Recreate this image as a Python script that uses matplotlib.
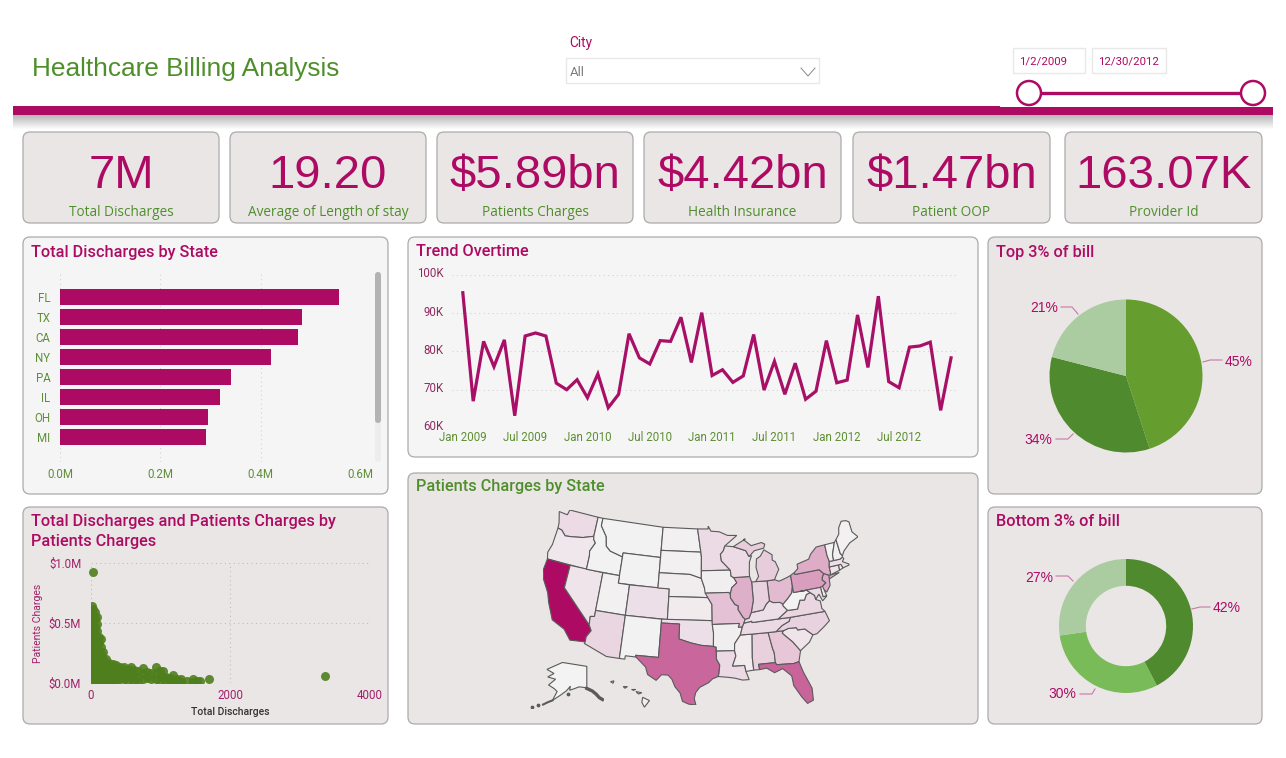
import numpy as np
import matplotlib
matplotlib.use("Agg")
import matplotlib.pyplot as plt
from matplotlib.colors import LinearSegmentedColormap
from matplotlib.patches import FancyBboxPatch, Circle, Polygon, Rectangle
from matplotlib.transforms import ScaledTranslation

W, H = 1286, 758

MAGENTA = "#AD0B63"
GREEN = "#4E8F2B"
TICK_GREEN = "#5F8F35"
TICK_MAGENTA = "#A0206A"
CARD = "#EAE6E6"
LIGHT = "#F5F5F5"
EDGE = "#ABABAB"
BODY = "Roboto"
ARIAL = "Liberation Sans"

# KPI cards
kpi_values = ["7M", "19.20", "$5.89bn", "$4.42bn", "$1.47bn", "163.07K"]
kpi_labels = ["Total Discharges", "Average of Length of stay", "Patients Charges",
              "Health Insurance", "Patient OOP", "Provider Id"]

# Total Discharges by State
bar_states = ["FL", "TX", "CA", "NY", "PA", "IL", "OH", "MI"]
bar_values = [0.556, 0.483, 0.475, 0.421, 0.340, 0.318, 0.295, 0.291]

# Trend Overtime, monthly Jan 2009 - Dec 2012 (thousands)
trend_values = [95.3, 67.0, 82.6, 76.0, 83.0, 63.2, 84.0, 84.8, 84.0, 71.7, 70.0, 72.6,
                67.9, 74.1, 65.3, 68.8, 84.6, 78.3, 76.7, 82.8, 82.6, 88.9, 77.1, 90.1,
                73.7, 75.2, 71.9, 73.6, 84.4, 69.9, 77.4, 68.8, 76.9, 67.5, 69.6, 82.8,
                71.8, 72.5, 89.5, 75.8, 94.4, 72.1, 70.5, 81.1, 81.4, 82.4, 64.6, 78.3]
trend_ticks = ["Jan 2009", "Jul 2009", "Jan 2010", "Jul 2010",
               "Jan 2011", "Jul 2011", "Jan 2012", "Jul 2012"]

# Scatter: discharges -> patients charges ($M)
scatter_cols = {
    10: [.64, .58, .52, .46, .40, .34, .28, .22, .16, .10, .05, .01],
    35: [.62, .56, .50, .44, .38, .32, .26, .20, .14, .08, .03],
    60: [.59, .53, .47, .41, .35, .29, .23, .17, .11, .05],
    85: [.55, .49, .43, .37, .31, .25, .19, .13, .07, .02],
    115: [.38, .33, .27, .21, .15, .09, .04],
    140: [.37, .30, .24, .18, .12, .06, .01],
    175: [.26, .20, .14, .08, .03],
    215: [.20, .15, .10, .05, .01],
    260: [.17, .12, .07, .02],
    310: [.16, .11, .06, .01],
    365: [.15, .10, .05, .01],
    420: [.13, .08, .03],
    475: [.13, .08, .03],
    530: [.12, .07, .02],
    570: [.135, .09, .04],
    625: [.11, .06, .01],
    680: [.10, .05, .01],
    750: [.125, .08, .03],
    805: [.09, .04],
    860: [.08, .03],
    935: [.13, .08, .03],
    990: [.10, .05, .01],
    1035: [.10, .05],
    1085: [.05, .01],
    1130: [.04, .01],
    1182: [.065, .02],
    1240: [.03, .01],
    1300: [.035, .01],
    1380: [.02],
    1460: [.03, .01],
    1530: [.02],
    1570: [.015],
    1695: [.036],
}
outlier_x = [25, 3370]
outlier_y = [0.925, 0.055]

# Pies
top_pcts = [45, 34, 21]
top_colors = ["#659D2F", "#4F8B2E", "#ABCBA1"]
bottom_pcts = [42, 30, 27]
bottom_colors = ["#4F8B2E", "#79BB59", "#ABCBA1"]

# Patients Charges by state ($bn, estimated from the shading)
state_charges = {
    "CA": .78, "TX": .47, "FL": .48, "PA": .29, "IL": .23, "NY": .24, "NJ": .25, "OH": .19,
    "MI": .13, "MO": .17, "GA": .15, "NC": .11, "AL": .12, "TN": .09, "VA": .10, "KY": .07,
    "IN": .11, "WI": .08, "MN": .08, "WA": .08, "OR": .04, "AZ": .10, "NV": .05, "CO": .07,
    "LA": .09, "MS": .03, "AR": .02, "OK": .07, "KS": .03, "NE": .025, "IA": .02, "SC": .05,
    "SD": .01, "ND": .01, "MT": .005, "WY": .005, "ID": .005, "UT": .01, "NM": .005, "ME": .01,
    "VT": .005, "NH": .01, "MA": .07, "CT": .05, "RI": .01, "DE": .02, "MD": .08, "WV": .005,
    "AK": .002, "HI": .01,
}

# Rough state outlines, lon/lat
state_shapes = {
    "WA": [(-124.7, 48.4), (-123.0, 48.3), (-122.8, 49), (-117.03, 49), (-117.04, 46.42), (-119.0, 45.93), (-121.2, 45.65), (-122.3, 45.55), (-123.2, 46.15), (-124.0, 46.27), (-124.1, 47.0)],
    "OR": [(-124.0, 46.27), (-123.2, 46.15), (-122.3, 45.55), (-121.2, 45.65), (-119.0, 45.93), (-117.04, 46.42), (-116.9, 45.99), (-116.47, 45.6), (-117.2, 44.4), (-117.03, 43.8), (-117.03, 42), (-124.2, 42), (-124.5, 42.85), (-124.1, 44.0)],
    "CA": [(-124.2, 42), (-120, 42), (-120, 39), (-114.63, 35.0), (-114.13, 34.3), (-114.72, 33.4), (-114.72, 32.72), (-117.12, 32.53), (-118.4, 33.75), (-120.6, 34.55), (-121.9, 36.6), (-122.5, 37.8), (-123.8, 39.3), (-124.35, 40.4)],
    "NV": [(-120, 42), (-114.04, 42), (-114.04, 36.2), (-114.72, 36.1), (-114.63, 35.0), (-120, 39)],
    "ID": [(-117.03, 49), (-116.05, 49), (-116.05, 48), (-114.7, 46.7), (-114.35, 45.5), (-113.45, 44.95), (-111.05, 44.48), (-111.05, 42), (-117.03, 42), (-117.03, 43.8), (-117.2, 44.4), (-116.47, 45.6), (-116.9, 45.99), (-117.04, 46.42)],
    "MT": [(-116.05, 49), (-104.05, 49), (-104.05, 45), (-111.05, 45), (-111.05, 44.48), (-113.45, 44.95), (-114.35, 45.5), (-114.7, 46.7), (-116.05, 48)],
    "WY": [(-111.05, 45), (-104.05, 45), (-104.05, 41), (-111.05, 41)],
    "UT": [(-114.04, 42), (-111.05, 42), (-111.05, 41), (-109.05, 41), (-109.05, 37), (-114.04, 37)],
    "CO": [(-109.05, 41), (-102.05, 41), (-102.05, 37), (-109.05, 37)],
    "AZ": [(-114.04, 37), (-109.05, 37), (-109.05, 31.33), (-111.07, 31.33), (-114.81, 32.5), (-114.72, 32.72), (-114.72, 33.4), (-114.13, 34.3), (-114.63, 35.0), (-114.72, 36.1), (-114.04, 36.2)],
    "NM": [(-109.05, 37), (-103.0, 37), (-103.05, 32), (-106.62, 32), (-106.53, 31.78), (-108.2, 31.78), (-108.2, 31.33), (-109.05, 31.33)],
    "ND": [(-104.05, 49), (-97.23, 49), (-96.56, 45.94), (-104.05, 45.94)],
    "SD": [(-104.05, 45.94), (-96.56, 45.94), (-96.45, 45.3), (-96.45, 42.49), (-98.5, 43.0), (-104.05, 43)],
    "NE": [(-104.05, 43), (-98.5, 43), (-96.45, 42.49), (-95.9, 41.3), (-95.31, 40.0), (-102.05, 40), (-102.05, 41), (-104.05, 41)],
    "KS": [(-102.05, 40), (-95.31, 40), (-94.62, 39.1), (-94.62, 37), (-102.05, 37)],
    "OK": [(-103, 37), (-94.62, 37), (-94.43, 35.4), (-94.48, 33.64), (-96.5, 33.8), (-98.1, 34.1), (-100, 34.56), (-100, 36.5), (-103, 36.5)],
    "TX": [(-106.62, 32), (-103.05, 32), (-103, 36.5), (-100, 36.5), (-100, 34.56), (-98.1, 34.1), (-96.5, 33.8), (-94.48, 33.64), (-94.04, 33.55), (-94.04, 31.99), (-93.55, 31.2), (-93.7, 30.1), (-93.84, 29.7), (-94.7, 29.4), (-95.3, 28.9), (-96.6, 28.3), (-97.2, 27.6), (-97.4, 26.8), (-97.15, 25.96), (-98.2, 26.06), (-99.1, 26.4), (-99.5, 27.5), (-100.3, 28.3), (-100.8, 29.25), (-101.4, 29.77), (-102.4, 29.77), (-103.15, 28.98), (-104.5, 29.65), (-104.9, 30.6), (-106.53, 31.78)],
    "MN": [(-97.23, 49), (-95.15, 49), (-95.15, 49.38), (-94.6, 48.7), (-93, 48.6), (-91.4, 48.07), (-89.6, 48.0), (-92.0, 46.7), (-92.3, 46.1), (-92.9, 45.6), (-92.75, 44.75), (-91.2, 43.5), (-96.45, 43.5), (-96.45, 45.3), (-96.56, 45.94)],
    "IA": [(-96.45, 43.5), (-91.2, 43.5), (-91.1, 42.7), (-90.65, 42.5), (-90.15, 41.8), (-91.1, 41.2), (-91.4, 40.4), (-91.7, 40.6), (-95.77, 40.58), (-95.9, 41.3), (-96.45, 42.49)],
    "MO": [(-95.77, 40.58), (-91.7, 40.6), (-91.4, 40.4), (-91.4, 39.9), (-90.7, 39.0), (-90.15, 38.8), (-90.2, 38.3), (-89.5, 37.3), (-89.13, 37.0), (-89.4, 36.5), (-89.7, 36.0), (-90.37, 36.0), (-90.15, 36.5), (-94.62, 36.5), (-94.62, 39.1), (-95.31, 40)],
    "AR": [(-94.62, 36.5), (-90.15, 36.5), (-90.37, 36.0), (-89.7, 36.0), (-90.1, 35.0), (-91.1, 33.9), (-91.17, 33.0), (-94.04, 33.02), (-94.04, 33.55), (-94.48, 33.64), (-94.43, 35.4)],
    "LA": [(-94.04, 33.02), (-91.17, 33.0), (-91.0, 32.3), (-91.6, 31.0), (-89.73, 31.0), (-89.6, 30.2), (-89.2, 29.1), (-90.2, 29.1), (-91.3, 29.4), (-92.3, 29.55), (-93.84, 29.7), (-93.7, 30.1), (-93.55, 31.2), (-94.04, 31.99)],
    "MS": [(-91.1, 33.9), (-90.1, 35.0), (-88.2, 35.0), (-88.47, 31.9), (-88.4, 30.3), (-89.6, 30.2), (-89.73, 31.0), (-91.6, 31.0), (-91.0, 32.3), (-91.17, 33.0)],
    "AL": [(-88.2, 35.0), (-85.6, 35.0), (-85.18, 32.87), (-85.0, 32.3), (-85.0, 31.0), (-87.6, 31.0), (-87.5, 30.3), (-88.4, 30.3), (-88.47, 31.9)],
    "GA": [(-85.6, 35.0), (-83.1, 35.0), (-83.35, 34.7), (-81.9, 33.4), (-80.9, 32.1), (-81.4, 30.72), (-82.2, 30.57), (-84.86, 30.71), (-85.0, 31.0), (-85.0, 32.3), (-85.18, 32.87)],
    "FL": [(-87.6, 31.0), (-85.0, 31.0), (-84.86, 30.71), (-82.2, 30.57), (-81.4, 30.72), (-81.0, 29.3), (-80.1, 27.0), (-80.2, 25.4), (-81.1, 25.1), (-81.8, 26.1), (-82.7, 27.7), (-82.8, 29.0), (-84.0, 30.1), (-85.3, 29.7), (-86.4, 30.4), (-87.5, 30.3)],
    "SC": [(-83.1, 35.0), (-82.3, 35.2), (-81.0, 35.15), (-80.8, 34.82), (-79.67, 34.8), (-78.55, 33.86), (-79.3, 33.0), (-80.9, 32.1), (-81.9, 33.4), (-83.35, 34.7)],
    "NC": [(-84.32, 35.0), (-83.1, 35.0), (-82.3, 35.2), (-81.0, 35.15), (-80.8, 34.82), (-79.67, 34.8), (-78.55, 33.86), (-77.9, 33.9), (-76.5, 34.65), (-75.5, 35.25), (-75.9, 36.55), (-81.68, 36.59), (-82.0, 36.1), (-83.2, 35.7)],
    "TN": [(-90.1, 35.0), (-88.2, 35.0), (-85.6, 35.0), (-84.32, 35.0), (-83.2, 35.7), (-82.0, 36.1), (-81.68, 36.59), (-83.68, 36.6), (-88.07, 36.5), (-88.07, 36.68), (-89.4, 36.5), (-89.7, 36.0)],
    "KY": [(-89.4, 36.5), (-88.07, 36.68), (-88.07, 36.5), (-83.68, 36.6), (-81.97, 37.54), (-82.6, 38.2), (-82.6, 38.42), (-83.0, 38.7), (-84.2, 38.8), (-84.8, 39.1), (-85.4, 38.7), (-86.0, 38.0), (-87.0, 37.9), (-88.05, 37.8), (-88.5, 37.1), (-89.13, 37.0)],
    "VA": [(-83.68, 36.6), (-81.68, 36.59), (-75.9, 36.55), (-76.3, 37.0), (-76.3, 38.0), (-77.0, 38.3), (-77.05, 38.85), (-77.7, 39.32), (-78.4, 39.17), (-78.9, 38.5), (-79.65, 38.6), (-80.3, 37.5), (-81.97, 37.54)],
    "WV": [(-81.97, 37.54), (-80.3, 37.5), (-79.65, 38.6), (-78.9, 38.5), (-78.4, 39.17), (-77.7, 39.32), (-78.2, 39.7), (-79.48, 39.72), (-80.52, 39.72), (-80.52, 40.64), (-80.85, 39.7), (-81.75, 39.0), (-82.6, 38.42), (-82.6, 38.2)],
    "OH": [(-84.8, 41.7), (-83.45, 41.73), (-82.7, 41.45), (-81.2, 41.78), (-80.52, 41.98), (-80.52, 40.64), (-80.85, 39.7), (-81.75, 39.0), (-82.6, 38.42), (-83.0, 38.7), (-84.2, 38.8), (-84.8, 39.1)],
    "IN": [(-87.53, 41.75), (-86.8, 41.76), (-84.8, 41.7), (-84.8, 39.1), (-85.4, 38.7), (-86.0, 38.0), (-87.0, 37.9), (-88.05, 37.8), (-87.53, 39.35)],
    "IL": [(-90.65, 42.5), (-87.8, 42.5), (-87.53, 41.75), (-87.53, 39.35), (-88.05, 37.8), (-88.5, 37.1), (-89.13, 37.0), (-89.5, 37.3), (-90.2, 38.3), (-90.15, 38.8), (-90.7, 39.0), (-91.4, 39.9), (-91.4, 40.4), (-91.1, 41.2), (-90.15, 41.8)],
    "WI": [(-92.0, 46.7), (-90.4, 46.55), (-88.1, 45.9), (-87.6, 45.1), (-87.1, 45.2), (-87.6, 44.4), (-87.8, 43.0), (-87.8, 42.5), (-90.65, 42.5), (-91.1, 42.7), (-91.2, 43.5), (-92.75, 44.75), (-92.9, 45.6), (-92.3, 46.1)],
    "MI": [(-86.8, 41.76), (-84.8, 41.7), (-83.45, 41.73), (-83.1, 42.2), (-82.45, 43.0), (-82.9, 44.05), (-83.4, 44.3), (-83.3, 45.0), (-84.7, 45.78), (-85.5, 45.0), (-86.25, 44.7), (-86.5, 43.6), (-86.2, 42.4)],
    "MI2": [(-90.4, 46.55), (-88.1, 45.9), (-87.6, 45.1), (-86.5, 45.8), (-84.7, 46.0), (-84.4, 46.5), (-85.0, 46.77), (-87.0, 46.5), (-88.4, 47.4), (-88.0, 47.45)],
    "PA": [(-80.52, 41.98), (-79.76, 42.27), (-79.76, 42.0), (-75.35, 42.0), (-74.7, 41.36), (-75.1, 40.95), (-75.2, 40.6), (-74.7, 40.15), (-75.4, 39.8), (-75.79, 39.72), (-79.48, 39.72), (-80.52, 39.72), (-80.52, 40.64)],
    "NY": [(-79.76, 42.27), (-79.05, 42.7), (-79.05, 43.27), (-76.8, 43.63), (-76.3, 44.2), (-75.0, 44.98), (-73.35, 45.01), (-73.4, 43.6), (-73.25, 42.75), (-73.5, 42.05), (-73.5, 41.3), (-73.7, 41.0), (-72.0, 41.05), (-73.9, 40.55), (-74.0, 40.75), (-73.9, 41.0), (-74.7, 41.36), (-75.35, 42.0), (-79.76, 42.0)],
    "NJ": [(-74.7, 41.36), (-73.9, 41.0), (-74.0, 40.4), (-74.1, 39.7), (-74.9, 38.95), (-75.5, 39.5), (-75.4, 39.8), (-74.7, 40.15), (-75.2, 40.6), (-75.1, 40.95)],
    "DE": [(-75.79, 39.72), (-75.4, 39.8), (-75.05, 38.45), (-75.7, 38.46)],
    "MD": [(-79.48, 39.72), (-75.79, 39.72), (-75.7, 38.46), (-75.05, 38.45), (-75.9, 37.95), (-76.3, 38.9), (-77.0, 38.3), (-77.05, 38.85), (-77.7, 39.32), (-78.2, 39.7)],
    "CT": [(-73.5, 42.05), (-71.8, 42.02), (-71.85, 41.32), (-73.7, 41.0), (-73.5, 41.3)],
    "RI": [(-71.8, 42.02), (-71.38, 42.02), (-71.15, 41.5), (-71.85, 41.32)],
    "MA": [(-73.25, 42.75), (-71.3, 42.7), (-70.8, 42.87), (-70.6, 42.65), (-71.0, 42.3), (-70.0, 41.8), (-70.0, 41.65), (-71.15, 41.5), (-71.38, 42.02), (-71.8, 42.02), (-73.5, 42.05)],
    "VT": [(-73.35, 45.01), (-71.5, 45.01), (-72.4, 43.5), (-72.46, 42.73), (-73.25, 42.75), (-73.4, 43.6)],
    "NH": [(-71.5, 45.01), (-71.08, 45.3), (-70.98, 43.4), (-70.7, 43.07), (-70.8, 42.87), (-71.3, 42.7), (-72.46, 42.73), (-72.4, 43.5)],
    "ME": [(-71.08, 45.3), (-70.3, 45.9), (-70.0, 46.7), (-69.2, 47.45), (-68.3, 47.35), (-67.8, 47.07), (-67.8, 45.7), (-67.0, 44.85), (-68.8, 44.4), (-70.2, 43.6), (-70.7, 43.07), (-70.98, 43.4)],
}
alaska_shape = [(-156.6, 71.3), (-141, 69.6), (-141, 60.3), (-146, 60.7), (-149, 59.9), (-152, 59.2), (-151.5, 61), (-154, 59), (-158, 57), (-163, 54.8), (-160, 58.7), (-162, 60), (-165.5, 61.5), (-161, 64), (-166, 65), (-162, 66.5), (-166.5, 68.3)]
alaska_panhandle = [(-141, 60.0), (-137.5, 58.9), (-135, 57.5), (-133, 56), (-131, 55.2)]
alaska_islands = [(-163, 54.8), (-166, 54), (-169, 53)]
alaska_dots = [(-153, 57.5), (-172, 52.6), (-176, 52)]
hawaii_shapes = [
    [(-155.9, 20.2), (-155.1, 19.8), (-155.7, 19.0), (-156.0, 19.6)],
    [(-156.7, 20.9), (-156.0, 20.75), (-156.4, 20.6)],
    [(-158.2, 21.5), (-157.7, 21.5), (-158.0, 21.3)],
    [(-159.7, 22.1), (-159.3, 22.2), (-159.4, 21.9)],
    [(-157.2, 21.15), (-156.75, 21.15), (-157.0, 21.05)],
]


def albers(points):
    # conic projection the same way the map visual looks
    phi1, phi2 = np.radians(29.5), np.radians(45.5)
    phi0, lam0 = np.radians(37.5), np.radians(-96)
    n = (np.sin(phi1) + np.sin(phi2)) / 2
    c = np.cos(phi1) ** 2 + 2 * n * np.sin(phi1)
    rho0 = np.sqrt(c - 2 * n * np.sin(phi0)) / n
    pts = np.radians(np.array(points))
    rho = np.sqrt(c - 2 * n * np.sin(pts[:, 1])) / n
    theta = n * (pts[:, 0] - lam0)
    return np.column_stack([rho * np.sin(theta), rho0 - rho * np.cos(theta)])


def px_axes(x0, y0, x1, y1, **kw):
    ax = fig.add_axes([x0 / W, 1 - y1 / H, (x1 - x0) / W, (y1 - y0) / H], **kw)
    ax.patch.set_alpha(0)
    return ax


def card(x0, y0, x1, y1, face=CARD):
    canvas.add_patch(FancyBboxPatch((x0, y0), x1 - x0, y1 - y0, boxstyle="round,pad=0,rounding_size=7",
                                    fc=face, ec=EDGE, lw=0.9))


def plain(ax):
    for s in ax.spines.values():
        s.set_visible(False)
    ax.tick_params(length=0)


fig = plt.figure(figsize=(W / 100, H / 100), dpi=100, facecolor="white")
canvas = fig.add_axes([0, 0, 1, 1])
canvas.set_xlim(0, W)
canvas.set_ylim(H, 0)
canvas.axis("off")

# Header
canvas.text(32, 69, "Healthcare Billing Analysis", color=GREEN, fontsize=18.95, family=ARIAL, va="center")
canvas.text(569, 43, "City", color=MAGENTA, fontsize=9.8, family=BODY, va="center")
canvas.add_patch(Rectangle((566, 58), 253, 25, fc="white", ec="#E8E8E8", lw=1))
canvas.text(570, 73, "All", color="#7A7A7A", fontsize=9.4, family=BODY, va="center")
canvas.plot([801, 808, 815], [68, 76, 68], color="#888888", lw=0.7)
for x0, x1, label in [(1013, 1085, "1/2/2009"), (1092, 1166, "12/30/2012")]:
    canvas.add_patch(Rectangle((x0, 48), x1 - x0, 25, fc="white", ec="#E8E8E8", lw=1))
    canvas.text(x0 + 6.5, 61.5, label, color=MAGENTA, fontsize=8.2, family=BODY, va="center")

canvas.imshow(np.linspace(0.72, 1, 15).reshape(-1, 1), cmap="gray", vmin=0, vmax=1, aspect="auto",
              extent=(13, 1273, 130, 115), zorder=1)
canvas.set_xlim(0, W)
canvas.set_ylim(H, 0)
canvas.add_patch(Rectangle((13, 106), 1260, 9, fc=MAGENTA, ec="none", zorder=2))
canvas.add_patch(Rectangle((1000, 105), 273, 2, fc="white", ec="none", zorder=2))
canvas.plot([1029, 1253], [93, 93], color=MAGENTA, lw=2.4, zorder=3)
for cx in (1029, 1253):
    canvas.add_patch(Circle((cx, 93), 12, fc="white", ec=MAGENTA, lw=1.8, zorder=4))

# KPI cards
kpi_x = [(23, 219), (230, 426), (437, 633), (644, 841), (853, 1050), (1065, 1262)]
for (x0, x1), val, lab in zip(kpi_x, kpi_values, kpi_labels):
    card(x0, 132, x1, 223)
    canvas.text((x0 + x1) / 2, 176, val, color=MAGENTA, fontsize=34, family=ARIAL, ha="center", va="center")
    canvas.text((x0 + x1) / 2, 213, lab, color=GREEN, fontsize=9.8, family="Open Sans", ha="center", va="center")

# Panels
card(23, 237, 388, 494, LIGHT)
card(408, 237, 978, 457, LIGHT)
card(408, 473, 978, 724)
card(23, 507, 388, 724)
card(988, 237, 1262, 494)
card(988, 507, 1262, 724)
title_style = dict(fontsize=11.7, family=BODY, weight="medium", va="center")
canvas.text(31, 252, "Total Discharges by State", color=MAGENTA, **title_style)
canvas.text(416, 252, "Trend Overtime", color=MAGENTA, **title_style)
canvas.text(416, 487, "Patients Charges by State", color=GREEN, **title_style)
canvas.text(31, 531.5, "Total Discharges and Patients Charges by\nPatients Charges", color=MAGENTA,
            linespacing=1.35, **title_style)
canvas.text(996, 252, "Top 3% of bill", color=MAGENTA, **title_style)
canvas.text(996, 522, "Bottom 3% of bill", color=MAGENTA, **title_style)

# Bars
ax = px_axes(60.3, 272, 360.7, 462)
ypos = np.arange(len(bar_states))
ax.barh(ypos, bar_values, height=0.8, color=MAGENTA, zorder=3)
ax.set_xlim(0, 0.6)
ax.set_ylim(8.25, -1.25)
ax.set_yticks(ypos, bar_states)
ax.set_xticks([0, 0.2, 0.4, 0.6], ["0.0M", "0.2M", "0.4M", "0.6M"])
plain(ax)
ax.tick_params(axis="x", labelsize=8.3, labelcolor=TICK_GREEN, pad=4)
ax.tick_params(axis="y", labelsize=8.3, labelcolor=TICK_GREEN, pad=7)
for lab in ax.get_xticklabels() + ax.get_yticklabels():
    lab.set_family(BODY)
ax.grid(axis="x", color="#D2D2D2", ls=(0, (1, 3)), lw=0.8)
ax.set_axisbelow(True)
canvas.add_patch(FancyBboxPatch((375, 272), 6, 190, boxstyle="round,pad=0,rounding_size=3", fc="#EDEDED", ec="none"))
canvas.add_patch(FancyBboxPatch((375, 272), 6, 151, boxstyle="round,pad=0,rounding_size=3", fc="#B3B3B3", ec="none"))

# Trend
ax = px_axes(452, 274.7, 958, 428)
ax.plot(range(len(trend_values)), trend_values, color="#A80F66", lw=2.3, solid_joinstyle="miter")
ax.set_xlim(-1.04, 47.67)
ax.set_ylim(60, 100)
ax.set_yticks([60, 70, 80, 90, 100], ["60K", "70K", "80K", "90K", "100K"])
ax.set_xticks(range(0, 48, 6), trend_ticks)
plain(ax)
ax.tick_params(axis="x", labelsize=8.3, labelcolor=TICK_GREEN, pad=2)
ax.tick_params(axis="y", labelsize=8.3, labelcolor="#8E2A60", pad=6)
for lab in ax.get_xticklabels() + ax.get_yticklabels():
    lab.set_family(BODY)
up = ScaledTranslation(0, 1.8 / 72, fig.dpi_scale_trans)
for lab in ax.get_yticklabels():
    lab.set_transform(lab.get_transform() + up)
ax.grid(axis="y", color="#D2D2D2", ls=(0, (1, 3)), lw=0.8)
ax.set_axisbelow(True)

# Map
cmap = LinearSegmentedColormap.from_list("charges", ["#F3F3F3", MAGENTA])
top_charge = max(state_charges.values())
ax = px_axes(543, 510, 858, 705)
allpts = []
for name, shape in state_shapes.items():
    xy = albers(shape)
    allpts.append(xy)
    value = state_charges[name.replace("2", "")]
    ax.add_patch(Polygon(xy, closed=True, fc=cmap(value / top_charge), ec="#5A5A5A", lw=0.8))
allpts = np.vstack(allpts)
ax.set_xlim(allpts[:, 0].min(), allpts[:, 0].max())
ax.set_ylim(allpts[:, 1].min(), allpts[:, 1].max())
ax.axis("off")

ax = px_axes(529, 662, 604, 708)
ax.add_patch(Polygon(alaska_shape, closed=True, fc=cmap(state_charges["AK"] / top_charge), ec="#5A5A5A", lw=0.8))
ax.plot(*zip(*alaska_panhandle), color="#5A5A5A", lw=2.4)
ax.plot(*zip(*alaska_islands), color="#5A5A5A", lw=1.5)
ax.scatter(*zip(*alaska_dots), color="#5A5A5A", s=3)
ax.set_xlim(-178, -130)
ax.set_ylim(51.5, 71.5)
ax.axis("off")

ax = px_axes(608, 680, 652, 708)
for shape in hawaii_shapes:
    ax.add_patch(Polygon(shape, closed=True, fc=cmap(state_charges["HI"] / top_charge), ec="#5A5A5A", lw=0.8))
ax.set_xlim(-160, -154.8)
ax.set_ylim(18.9, 22.3)
ax.axis("off")

# Scatter
scatter_x = [x for x, ys in scatter_cols.items() for _ in ys]
scatter_y = [y for ys in scatter_cols.values() for y in ys]
ax = px_axes(91, 563, 369.3, 683)
ax.scatter(scatter_x, scatter_y, s=42, color="#4F7F1C", alpha=0.9, lw=0, zorder=3)
ax.scatter(outlier_x, outlier_y, s=42, color="#4F7F1C", alpha=0.9, lw=0, zorder=3, clip_on=False)
ax.set_xlim(0, 4000)
ax.set_ylim(0, 1)
ax.set_xticks([0, 2000, 4000], ["0", "2000", "4000"])
ax.set_yticks([0, 0.5, 1], ["$0.0M", "$0.5M", "$1.0M"])
plain(ax)
ax.tick_params(axis="x", labelsize=8.3, labelcolor=TICK_MAGENTA, pad=4)
ax.tick_params(axis="y", labelsize=8.3, labelcolor=TICK_MAGENTA, pad=7)
for lab in ax.get_xticklabels() + ax.get_yticklabels():
    lab.set_family(BODY)
ax.grid(color="#BDBDBD", ls=(0, (1, 3)), lw=0.8)
ax.set_axisbelow(True)
ax.set_xlabel("Total Discharges", fontsize=7.5, family=BODY, weight="medium", color="#333333", labelpad=4)
ax.set_ylabel("Patients Charges", fontsize=7.5, family=BODY, color=TICK_MAGENTA, labelpad=4)

# Pies
ax = px_axes(1049.5, 299.5, 1202.5, 452.5)
ax.pie(top_pcts, colors=top_colors, startangle=90, counterclock=False, radius=1,
       wedgeprops={"lw": 0})
ax.set_xlim(-1, 1)
ax.set_ylim(-1, 1)

ax = px_axes(1059, 559, 1193, 693)
ax.pie(bottom_pcts, colors=bottom_colors, startangle=90, counterclock=False, radius=1,
       wedgeprops={"width": 0.4, "lw": 0})
ax.set_xlim(-1, 1)
ax.set_ylim(-1, 1)

pie_labels = [("45%", 1239, 361.5, [(1203, 362), (1210, 360), (1222, 360)]),
              ("34%", 1038.5, 439.5, [(1056, 439), (1068, 439), (1073, 434)]),
              ("21%", 1044, 308.5, [(1061, 307), (1072, 307), (1078, 314)]),
              ("42%", 1227, 608.5, [(1192, 609), (1200, 607), (1210, 607)]),
              ("30%", 1062, 694.5, [(1080, 694), (1092, 694), (1095, 689)]),
              ("27%", 1039, 577.5, [(1056, 576), (1068, 576), (1073, 581)])]
for text, x, y, leader in pie_labels:
    canvas.text(x, y, text, color=MAGENTA, fontsize=10, family=ARIAL, ha="center", va="center")
    canvas.plot(*zip(*leader), color="#C878A5", lw=0.8)

fig.savefig("out.png", dpi=100)
plt.close(fig)
